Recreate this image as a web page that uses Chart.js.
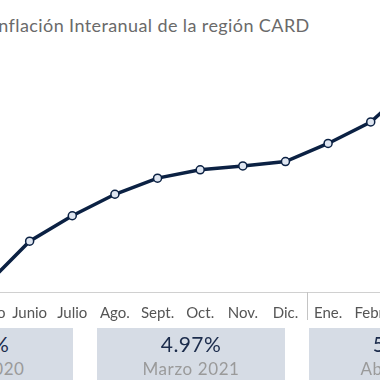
<!DOCTYPE html>
<html>
<head>
<meta charset="utf-8">
<script src="https://cdn.jsdelivr.net/npm/chart.js@4.4.1/dist/chart.umd.min.js"></script>
<style>
  html, body { margin: 0; padding: 0; background: #fff; }
  #wrap { position: relative; width: 380px; height: 380px; overflow: hidden; font-family: Lato, "Open Sans", sans-serif; }
  #title { position: absolute; left: -7px; top: 14px; font-size: 18px; letter-spacing: 0.4px; color: #6a6a6a; white-space: nowrap; }
  #cv { position: absolute; left: -60px; top: 0; }
  .box { position: absolute; top: 328px; width: 188px; height: 60px; background: #d6dce5; text-align: center; }
  .box .v { font-size: 21px; letter-spacing: 0.4px; color: #1b2b4b; margin-top: 5px; line-height: 22px; }
  .box .l { font-size: 17px; letter-spacing: 0.6px; color: #9a9a9a; margin-top: 5px; line-height: 17px; }
</style>
</head>
<body>
<div id="wrap">
  <div id="title">Inflación Interanual de la región CARD</div>
  <canvas id="cv" width="560" height="380"></canvas>
  <div id="boxes"></div>
</div>
<script>
const categories = ['Mayo','Junio','Julio','Ago.','Sept.','Oct.','Nov.','Dic.','Ene.','Febr.','Marzo','Abril'];
const inflation = [0.86, 1.74, 2.26, 2.70, 3.03, 3.20, 3.28, 3.37, 3.74, 4.18, 4.97, 5.42];
const boxValues = ['0.86%', '4.97%', '5.42%'];
const boxLabels = ['Mayo 2020', 'Marzo 2021', 'Abril 2021'];
const yearBreakIndex = 8;

const boxLefts = [-115, 97, 309];
const boxesEl = document.getElementById('boxes');
boxValues.forEach((v, i) => {
  const d = document.createElement('div');
  d.className = 'box';
  d.style.left = boxLefts[i] + 'px';
  d.innerHTML = '<div class="v">' + v + '</div><div class="l">' + boxLabels[i] + '</div>';
  boxesEl.appendChild(d);
});

const yearSeparator = {
  id: 'yearSeparator',
  afterDraw(chart) {
    const xs = chart.scales.x;
    const px = Math.round((xs.getPixelForValue(yearBreakIndex - 1) + xs.getPixelForValue(yearBreakIndex)) / 2) + 0.5;
    const c = chart.ctx;
    c.save();
    c.strokeStyle = '#c4c4c4';
    c.lineWidth = 1;
    c.beginPath();
    c.moveTo(px, xs.top);
    c.lineTo(px, xs.top + 28);
    c.stroke();
    c.restore();
  }
};

const cv = document.getElementById('cv');
cv.style.width = '560px'; cv.style.height = '380px';
new Chart(cv, {
  type: 'line',
  data: {
    labels: categories,
    datasets: [{
      data: inflation,
      borderColor: '#0b2143',
      borderWidth: 3.5,
      pointRadius: 4,
      pointBorderWidth: 1.5,
      pointBackgroundColor: '#dfe6f1',
      pointBorderColor: '#0b2143',
      tension: 0,
      clip: false
    }]
  },
  options: {
    responsive: false,
    animation: false,
    devicePixelRatio: 1,
    layout: { padding: { left: 47, right: 44, top: 33, bottom: 46 } },
    plugins: { legend: { display: false }, tooltip: { enabled: false }, title: { display: false } },
    scales: {
      x: {
        offset: false,
        border: { display: true, color: '#d0d0d0', width: 1 },
        grid: { display: true, drawOnChartArea: false, drawTicks: false, color: 'rgba(0,0,0,0)' },
        ticks: {
          padding: 12,
          maxRotation: 0,
          autoSkip: false,
          color: '#555555',
          font: { family: 'Lato', size: 15 }
        }
      },
      y: { display: false, min: 0.7, max: 6.0 }
    }
  },
  plugins: [yearSeparator]
});
</script>
</body>
</html>
